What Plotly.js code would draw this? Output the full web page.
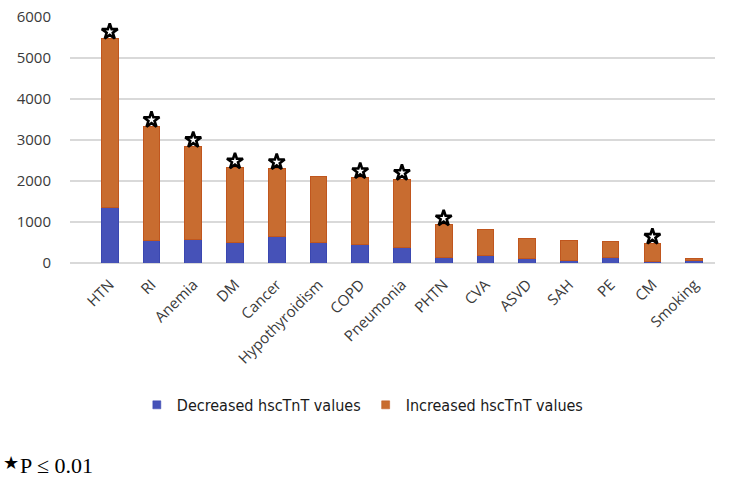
<!DOCTYPE html>
<html>
<head>
<meta charset="utf-8">
<script src="https://cdn.plot.ly/plotly-3.0.1.min.js"></script>
<style>html,body{margin:0;padding:0;background:#fff;}#chart{width:735px;height:482px;}</style>
</head>
<body>
<div id="chart"></div>
<script>
const categories = ["HTN","RI","Anemia","DM","Cancer","Hypothyroidism","COPD","Pneumonia","PHTN","CVA","ASVD","SAH","PE","CM","Smoking"];
const decreased = [1360, 545, 585, 500, 640, 490, 455, 380, 125, 190, 110, 70, 135, 40, 60];
const increased = [4120, 2785, 2255, 1820, 1660, 1620, 1625, 1660, 805, 630, 490, 490, 385, 440, 50];
const significant = [true, true, true, true, true, false, true, true, true, false, false, false, false, true, false];
const seriesNames = ['Decreased hscTnT values', 'Increased hscTnT values'];
const yTicks = [0, 1000, 2000, 3000, 4000, 5000, 6000];

const BLUE = '#4652b8', ORANGE = '#c86c30';

const starX = [], starY = [];
categories.forEach((c, i) => {
  if (significant[i]) { starX.push(c); starY.push(decreased[i] + increased[i] + 160); }
});

const traces = [
  {type: 'bar', name: seriesNames[0], x: categories, y: decreased, showlegend: false,
   marker: {color: BLUE, line: {color: '#3a47b0', width: 1}}},
  {type: 'bar', name: seriesNames[1], x: categories, y: increased, showlegend: false,
   marker: {color: ORANGE, line: {color: '#c0561e', width: 1}}},
  {type: 'scatter', mode: 'markers', x: starX, y: starY, showlegend: false, hoverinfo: 'skip',
   marker: {symbol: 'star', size: 12, color: '#ffffff', line: {color: '#000000', width: 2.6}}},
  // legend entries with small square symbols
  {type: 'scatter', mode: 'markers', name: seriesNames[0], x: [null], y: [null],
   marker: {symbol: 'square', size: 8, color: BLUE, line: {color: '#3a47b0', width: 0.5}}},
  {type: 'scatter', mode: 'markers', name: seriesNames[1], x: [null], y: [null],
   marker: {symbol: 'square', size: 8, color: ORANGE, line: {color: '#c0561e', width: 0.5}}}
];

const font = {family: 'Open Sans, sans-serif', size: 15, color: '#3a3a3a'};
const layout = {
  width: 735, height: 482,
  margin: {l: 70, r: 20, t: 16.7, b: 218.7},
  barmode: 'stack', bargap: 0.6,
  paper_bgcolor: '#ffffff', plot_bgcolor: '#ffffff',
  font: font,
  xaxis: {tickangle: -45, showgrid: false, showline: false, zeroline: false,
          ticks: 'outside', ticklen: 6, tickcolor: 'rgba(0,0,0,0)', tickfont: font},
  yaxis: {range: [0, 6000], tickvals: yTicks, ticktext: yTicks.map(String),
          showgrid: true, gridcolor: '#d9d9d9', gridwidth: 1.3, zeroline: true, zerolinecolor: '#d9d9d9', zerolinewidth: 1.3,
          showline: false, ticks: 'outside', ticklen: 15, tickcolor: 'rgba(0,0,0,0)', tickfont: font},
  legend: {orientation: 'h', x: 0.454, xanchor: 'center', y: -0.577, yanchor: 'middle',
           font: {family: 'DejaVu Sans Condensed, DejaVu Sans, sans-serif', size: 16, color: '#1a1a1a'},
           itemwidth: 30, traceorder: 'normal', tracegroupgap: 0},
  annotations: [
    {xref: 'paper', yref: 'paper', x: -0.107, y: -0.812, xanchor: 'left', yanchor: 'middle',
     showarrow: false, text: '★', font: {family: 'DejaVu Sans, sans-serif', size: 18, color: '#000000'}},
    {xref: 'paper', yref: 'paper', x: -0.081, y: -0.822, xanchor: 'left', yanchor: 'middle',
     showarrow: false, text: 'P ≤ 0.01', font: {family: 'Liberation Serif, serif', size: 22, color: '#000000'}}
  ],
  showlegend: true
};

Plotly.newPlot('chart', traces, layout, {displayModeBar: false, staticPlot: true});
</script>
</body>
</html>
